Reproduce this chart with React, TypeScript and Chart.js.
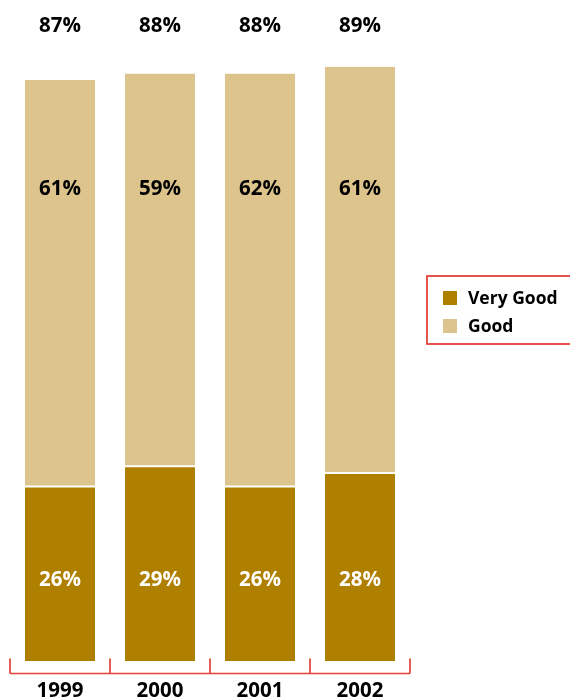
import React, { useEffect, useRef } from "react";
import { Chart, registerables } from "chart.js";

Chart.register(...registerables);

const years = ["1999", "2000", "2001", "2002"];
const veryGood = [26, 29, 26, 28];
const good = [61, 59, 62, 61];
const totals = [87, 88, 88, 89];
const seriesNames = ["Very Good", "Good"];
const colors = ["#AF7F00", "#DDC38C"];

const FONT = "'Open Sans', 'DejaVu Sans', sans-serif";
const RED = "#E4403A";

const decorPlugin = {
  id: "decor",
  afterDatasetsDraw(chart: any) {
    const { ctx, chartArea, scales } = chart;
    const x = scales.x;
    const y = scales.y;
    ctx.save();

    // value labels
    ctx.textAlign = "center";
    ctx.textBaseline = "middle";
    ctx.font = `bold 20.5px ${FONT}`;
    years.forEach((_, i) => {
      const cx = x.getPixelForValue(i);
      ctx.fillStyle = "#000";
      ctx.fillText(`${totals[i]}%`, cx, y.getPixelForValue(95.1));
      ctx.fillText(`${good[i]}%`, cx, y.getPixelForValue(70.7));
      ctx.fillStyle = "#fff";
      ctx.fillText(`${veryGood[i]}%`, cx, y.getPixelForValue(12.1));
    });

    // bracket axis
    const axisY = chartArea.bottom + 12.5;
    ctx.strokeStyle = RED;
    ctx.lineWidth = 1.7;
    ctx.beginPath();
    ctx.moveTo(chartArea.left, axisY);
    ctx.lineTo(chartArea.right, axisY);
    const n = years.length;
    for (let i = 0; i <= n; i++) {
      const bx = chartArea.left + ((chartArea.right - chartArea.left) * i) / n;
      ctx.moveTo(bx, axisY);
      ctx.lineTo(bx, axisY - 15);
    }
    ctx.stroke();

    // x labels
    ctx.fillStyle = "#000";
    ctx.font = `bold 20.5px ${FONT}`;
    years.forEach((yr, i) => {
      ctx.fillText(yr, x.getPixelForValue(i), chartArea.bottom + 30.5);
    });

    // legend
    const lx = chartArea.right + 17;
    const ly = 276;
    ctx.strokeStyle = RED;
    ctx.lineWidth = 1.8;
    ctx.strokeRect(lx, ly, 200, 68);
    ctx.font = `bold 17.5px ${FONT}`;
    ctx.textAlign = "left";
    seriesNames.forEach((name, i) => {
      const sy = ly + 15 + i * 28;
      ctx.fillStyle = colors[i];
      ctx.fillRect(lx + 16, sy, 14, 14);
      ctx.fillStyle = "#000";
      ctx.fillText(name, lx + 41, sy + 8.5);
    });

    ctx.restore();
  },
};

export default function App() {
  const ref = useRef<HTMLCanvasElement | null>(null);
  useEffect(() => {
    if (!ref.current) return;
    const chart = new Chart(ref.current, {
      type: "bar",
      data: {
        labels: years,
        datasets: [
          {
            label: seriesNames[0],
            data: veryGood,
            backgroundColor: colors[0],
            borderWidth: 0,
          },
          {
            label: seriesNames[1],
            data: good,
            backgroundColor: colors[1],
            borderColor: "#ffffff",
            borderWidth: { top: 0, left: 0, right: 0, bottom: 2 },
            borderSkipped: false,
          },
        ],
      },
      options: {
        responsive: false,
        animation: false,
        devicePixelRatio: 1,
        layout: { padding: { top: 0, left: 10, right: 160, bottom: 38 } },
        datasets: { bar: { categoryPercentage: 1, barPercentage: 0.7 } },
        scales: {
          x: { stacked: true, display: false },
          y: { stacked: true, display: false, min: 0, max: 99 },
        },
        plugins: { legend: { display: false }, tooltip: { enabled: false } },
      },
      plugins: [decorPlugin],
    } as any);
    return () => chart.destroy();
  }, []);
  return (
    <div style={{ position: "absolute", left: 0, top: 0, width: 570, height: 699 }}>
      <canvas ref={ref} width={570} height={699} style={{ display: "block" }} />
    </div>
  );
}
